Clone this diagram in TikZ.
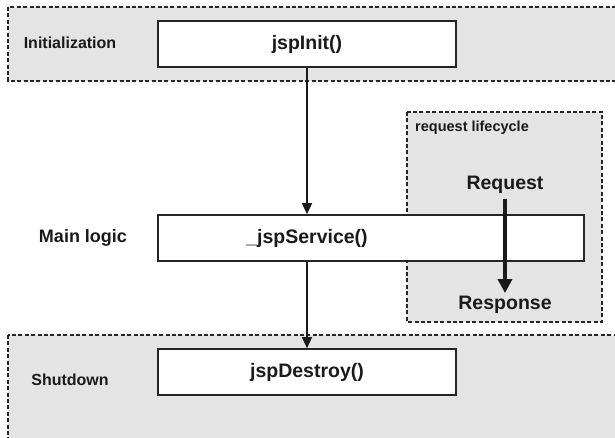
\documentclass[tikz,border=0pt]{standalone}
\usepackage{fontspec}
\setmainfont{Liberation Sans}
\usetikzlibrary{arrows.meta}
\definecolor{regionfill}{HTML}{E4E4E4}
\definecolor{edge}{HTML}{262626}
\definecolor{ink}{HTML}{1A1A1A}
\begin{document}
\begin{tikzpicture}[x=1pt,y=-1pt,
  region/.style={fill=regionfill,draw=edge,line width=1.4pt,dash pattern=on 4pt off 2.4pt},
  methodbox/.style={draw=edge,fill=white,line width=1.6pt,rectangle,inner sep=0pt},
  methodtext/.style={font=\bfseries\fontsize{19.5}{22}\selectfont,text=ink,inner sep=0pt},
  phasetext/.style={font=\bfseries\fontsize{16}{19}\selectfont,text=ink,inner sep=0pt},
  flow/.style={draw=ink,line width=1.3pt,-{Triangle[length=11pt,width=10pt]}},
  reqflow/.style={draw=ink,line width=3.6pt,-{Triangle[length=14pt,width=14pt]}}]
\useasboundingbox (0,0) rectangle (615,438);
\begin{scope}
\clip (0,0) rectangle (615,438);
% phase regions
\path[region] (8,7) rectangle (622,81);
\path[region] (8,335) rectangle (622,445);
\path[region] (407,112) rectangle (602,322);
\end{scope}
% labels of regions
\node[phasetext] (lblinit) at (70,43) {Initialization};
\node[phasetext,font=\bfseries\fontsize{18}{21}\selectfont] (lblmain) at (83,238) {Main logic};
\node[phasetext] (lblshut) at (70,380) {Shutdown};
\node[font=\bfseries\fontsize{14.5}{17}\selectfont,text=ink,inner sep=0pt,anchor=west] (lblreq) at (415,128) {request lifecycle};
% method boxes
\node[methodbox,minimum width=298pt,minimum height=46pt] (init) at (307,44) {};
\node[methodtext] at (init.center) {jspInit()};
\node[methodbox,minimum width=426pt,minimum height=46pt] (svc) at (371,238) {};
\node[methodtext] (svct) at (307,238) {\_jspService()};
\node[methodbox,minimum width=298pt,minimum height=46pt] (dest) at (307,372) {};
\node[methodtext] at (dest.center) {jspDestroy()};
% request / response
\node[methodtext] (req) at (505,185) {Request};
\node[methodtext] (resp) at (505,305) {Response};
% connectors
\draw[flow] (init.south) -- (svc.north -| init.south);
\draw[flow] (svc.south -| init.south) -- (dest.north);
\draw[reqflow,shorten <=5pt,shorten >=3pt] (req.south) -- (resp.north);
\end{tikzpicture}
\end{document}
